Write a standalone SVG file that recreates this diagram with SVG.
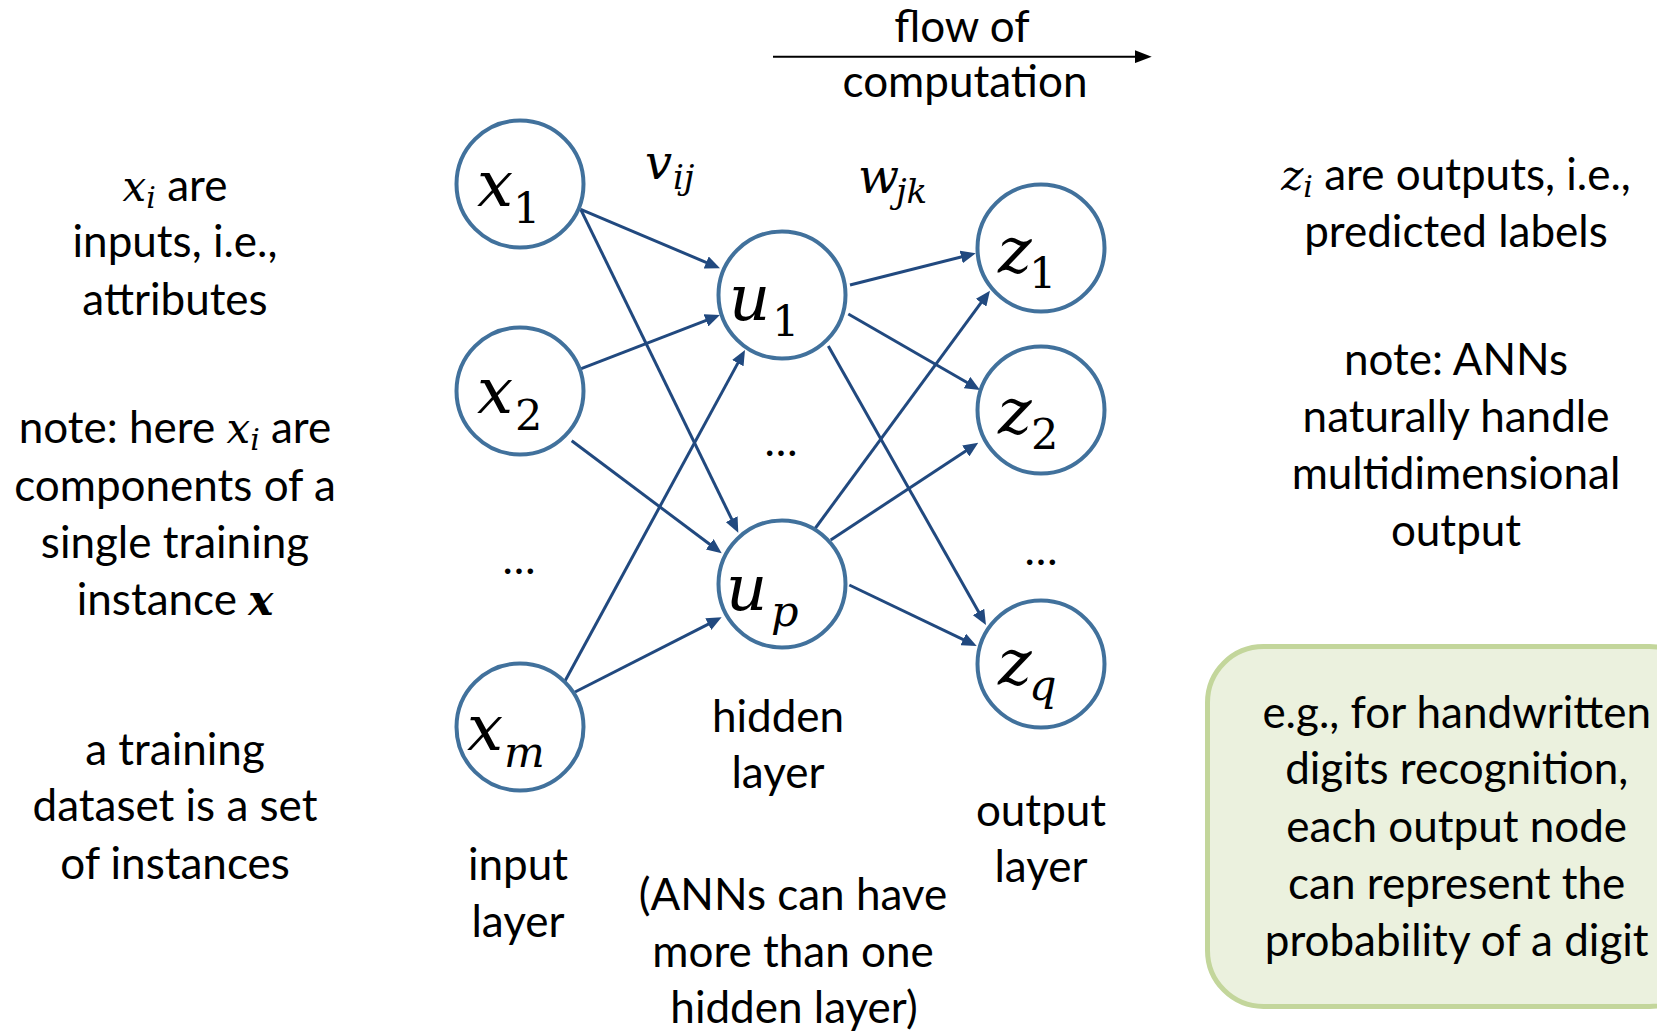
<svg xmlns="http://www.w3.org/2000/svg" width="1657" height="1035" viewBox="0 0 1657 1035">
<style>
.t{font-family:Lato,"Liberation Sans",sans-serif;font-size:44px;fill:#000;text-anchor:middle}
.m{font-family:"DejaVu Serif",serif;font-style:italic}
.n{font-family:"DejaVu Serif",serif;font-size:64px;font-style:italic;fill:#000}
.s{font-family:"DejaVu Serif",serif;font-size:43px;fill:#000}
.si{font-family:"DejaVu Serif",serif;font-size:43px;font-style:italic;fill:#000}
.node{fill:#fff;stroke:#41719C;stroke-width:4}
.edge{stroke:#21497F;stroke-width:3;fill:none;marker-end:url(#ah)}
</style>
<defs>
<marker id="ah" markerUnits="userSpaceOnUse" markerWidth="15" markerHeight="13" refX="10" refY="6.5" orient="auto" viewBox="0 0 15 13"><path d="M0,0 L15,6.5 L0,13 z" fill="#21497F"/></marker>
<marker id="ahk" markerUnits="userSpaceOnUse" markerWidth="17" markerHeight="13" refX="11" refY="6.5" orient="auto" viewBox="0 0 17 13"><path d="M0,0 L17,6.5 L0,13 z" fill="#000"/></marker>
</defs>
<rect width="1657" height="1035" fill="#fff"/>

<g id="flow">
<line x1="773" y1="56.7" x2="1145.7" y2="56.7" stroke="#000" stroke-width="2" marker-end="url(#ahk)"/>
<text class="t" x="962" y="42">flow of</text>
<text class="t" x="965" y="97">computation</text>
</g>

<g id="connectors">
<line class="edge" x1="580.7" y1="209.3" x2="715.4" y2="266.35"/>
<line class="edge" x1="580.7" y1="209.3" x2="736.1" y2="528.2"/>
<line class="edge" x1="579.3" y1="369.3" x2="715.3" y2="316.8"/>
<line class="edge" x1="571.7" y1="440.7" x2="717.7" y2="550.3"/>
<line class="edge" x1="565" y1="681" x2="742.6" y2="354.4"/>
<line class="edge" x1="575" y1="692" x2="717.2" y2="619.6"/>
<line class="edge" x1="850" y1="285" x2="970.9" y2="254.5"/>
<line class="edge" x1="848.3" y1="314" x2="975.7" y2="387.5"/>
<line class="edge" x1="828.3" y1="346" x2="983.5" y2="620.6"/>
<line class="edge" x1="814" y1="530" x2="987" y2="294.7"/>
<line class="edge" x1="830.7" y1="540" x2="974.1" y2="445.5"/>
<line class="edge" x1="849.3" y1="585" x2="972.2" y2="643.8"/>
</g>

<g id="node-x1"><circle class="node" cx="520" cy="184" r="63.5"/><text class="n" x="477" y="206">x</text><text class="s" x="513" y="223">1</text></g>
<g id="node-x2"><circle class="node" cx="520" cy="391" r="63.5"/><text class="n" x="477" y="413">x</text><text class="s" x="515" y="430">2</text></g>
<g id="node-xm"><circle class="node" cx="520" cy="727" r="63.5"/><text class="n" x="467" y="750">x</text><text class="si" x="504" y="767">m</text></g>
<g id="node-u1"><circle class="node" cx="782" cy="295" r="63.5"/><text class="n" x="729" y="320">u</text><text class="s" x="772" y="336">1</text></g>
<g id="node-up"><circle class="node" cx="782" cy="584" r="63.5"/><text class="n" x="726" y="610">u</text><text class="si" x="771" y="626">p</text></g>
<g id="node-z1"><circle class="node" cx="1041" cy="248" r="63.5"/><text class="n" x="998" y="272">z</text><text class="s" x="1029" y="288">1</text></g>
<g id="node-z2"><circle class="node" cx="1041" cy="410" r="63.5"/><text class="n" x="998" y="433">z</text><text class="s" x="1031" y="449">2</text></g>
<g id="node-zq"><circle class="node" cx="1041" cy="664" r="63.5"/><text class="n" x="998" y="684">z</text><text class="si" x="1029" y="700">q</text></g>

<g id="weights">
<text class="m" x="645" y="179" font-size="48">v</text><text class="m" x="673" y="189" font-size="34">ij</text>
<text class="m" x="858" y="193" font-size="48">w</text><text class="m" x="896" y="203" font-size="34">jk</text>
</g>

<g id="ellipses">
<text class="t" x="519" y="574">…</text>
<text class="t" x="781" y="456">…</text>
<text class="t" x="1041" y="565">…</text>
</g>

<g id="layer-labels">
<text class="t" x="518" y="880">input</text>
<text class="t" x="518" y="937">layer</text>
<text class="t" x="778" y="732">hidden</text>
<text class="t" x="778" y="788">layer</text>
<text class="t" x="1041" y="826">output</text>
<text class="t" x="1041" y="882">layer</text>
<text class="t" x="793" y="910">(ANNs can have</text>
<text class="t" x="793" y="967">more than one</text>
<text class="t" x="794" y="1023">hidden layer)</text>
</g>

<g id="left-notes">
<text class="t" x="175" y="201"><tspan class="m" font-size="42">x</tspan><tspan class="m" font-size="30" dy="7">i</tspan><tspan dy="-7"> are</tspan></text>
<text class="t" x="175" y="257">inputs, i.e.,</text>
<text class="t" x="175" y="315">attributes</text>
<text class="t" x="175" y="443">note: here <tspan class="m" font-size="42">x</tspan><tspan class="m" font-size="30" dy="7">i</tspan><tspan dy="-7"> are</tspan></text>
<text class="t" x="175" y="501">components of a</text>
<text class="t" x="175" y="558">single training</text>
<text class="t" x="175" y="615">instance <tspan class="m" font-size="42" font-weight="bold">x</tspan></text>
<text class="t" x="175" y="765">a training</text>
<text class="t" x="175" y="821">dataset is a set</text>
<text class="t" x="175" y="879">of instances</text>
</g>

<g id="right-notes">
<text class="t" x="1456" y="190"><tspan class="m" font-size="42">z</tspan><tspan class="m" font-size="30" dy="7">i</tspan><tspan dy="-7"> are outputs, i.e.,</tspan></text>
<text class="t" x="1456" y="247">predicted labels</text>
<text class="t" x="1456" y="375">note: ANNs</text>
<text class="t" x="1456" y="432">naturally handle</text>
<text class="t" x="1456" y="489">multidimensional</text>
<text class="t" x="1456" y="546">output</text>
</g>

<g id="example-box">
<rect x="1207.5" y="646.5" width="498" height="360" rx="56" ry="56" fill="#EBF1DE" stroke="#C3D69B" stroke-width="5"/>
<text class="t" x="1456.7" y="728">e.g., for handwritten</text>
<text class="t" x="1456.7" y="784">digits recognition,</text>
<text class="t" x="1456.7" y="842">each output node</text>
<text class="t" x="1456.7" y="899">can represent the</text>
<text class="t" x="1456.7" y="956">probability of a digit</text>
</g>
</svg>
